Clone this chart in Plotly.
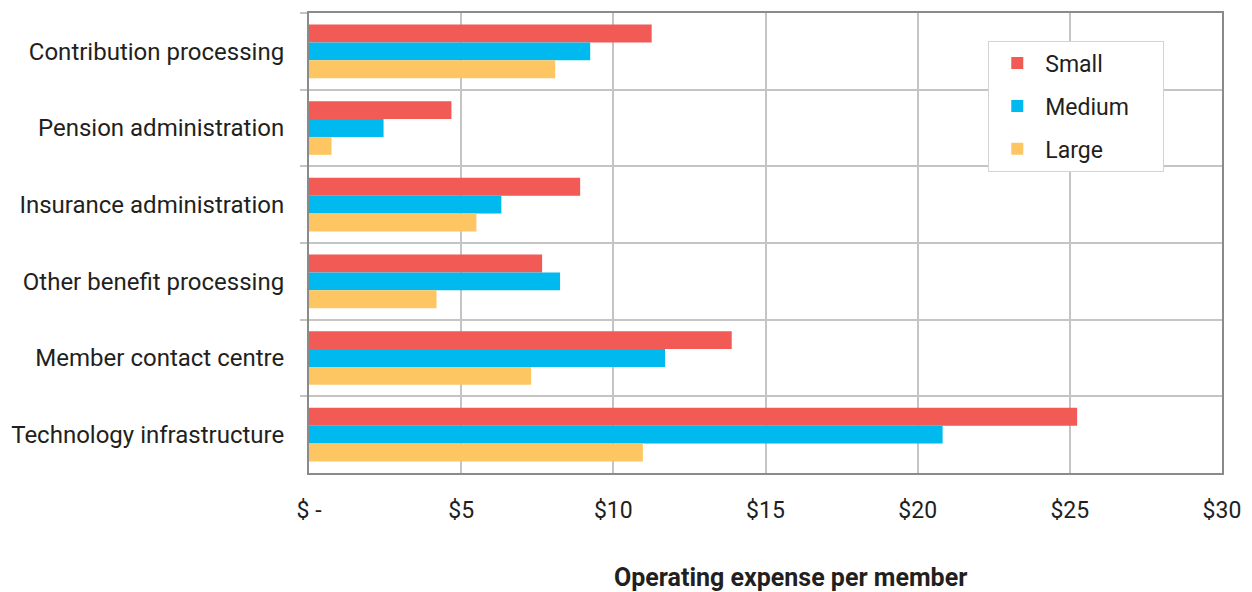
import plotly.graph_objects as go

# Operating expense per member by activity and fund size
categories = [
    "Contribution processing",
    "Pension administration",
    "Insurance administration",
    "Other benefit processing",
    "Member contact centre",
    "Technology infrastructure",
]
small = [11.26, 4.68, 8.91, 7.66, 13.89, 25.24]
medium = [9.24, 2.45, 6.32, 8.25, 11.70, 20.82]
large = [8.09, 0.74, 5.50, 4.19, 7.30, 10.97]

tick_vals = [0, 5, 10, 15, 20, 25, 30]
tick_text = ["$ -", "$5", "$10", "$15", "$20", "$25", "$30"]

FONT = "Roboto, sans-serif"
TEXT = "#231f20"

fig = go.Figure()
for name, vals, color in [
    ("Small", small, "#f15a55"),
    ("Medium", medium, "#00b9ef"),
    ("Large", large, "#fdc663"),
]:
    fig.add_trace(go.Bar(
        name=name + "     ", y=categories, x=vals, orientation="h",
        legendgroup=name,
        marker=dict(color=color, line=dict(width=0)),
    ))

fig.update_layout(
    width=1252, height=592,
    margin=dict(l=308, r=29, t=11, b=119),
    paper_bgcolor="white", plot_bgcolor="white",
    barmode="group", bargap=0.3, bargroupgap=0,
    font=dict(family=FONT, size=23, color=TEXT),
    legend=dict(
        x=0.744, y=0.94, xanchor="left", yanchor="top",
        bgcolor="white", bordercolor="#d4d4d4", borderwidth=1,
        font=dict(size=23, color=TEXT),
        itemwidth=46, tracegroupgap=10,
        traceorder="grouped",
    ),
    xaxis=dict(
        range=[0, 30], tickvals=tick_vals, ticktext=tick_text,
        showgrid=True, gridcolor="#c4c4c4", gridwidth=2,
        showline=True, linecolor="#8a8a8a", linewidth=2, mirror=True,
        ticks="", ticklabelstandoff=15, zeroline=False,
        tickfont=dict(size=23, color=TEXT),
    ),
    yaxis=dict(
        autorange="reversed", tickson="boundaries",
        showgrid=True, gridcolor="#c4c4c4", gridwidth=2,
        showline=True, linecolor="#8a8a8a", linewidth=2, mirror=True,
        ticks="outside", ticklen=7, tickcolor="#c4c4c4", tickwidth=2,
        ticklabelstandoff=18,
        tickfont=dict(size=24, color=TEXT),
    ),
)

fig.add_annotation(
    text="<b>Operating expense per member</b>",
    xref="paper", yref="paper", x=0.527, y=-0.228,
    xanchor="center", yanchor="middle", showarrow=False,
    font=dict(family=FONT, size=25, color=TEXT),
)

fig.write_html("out.html")
